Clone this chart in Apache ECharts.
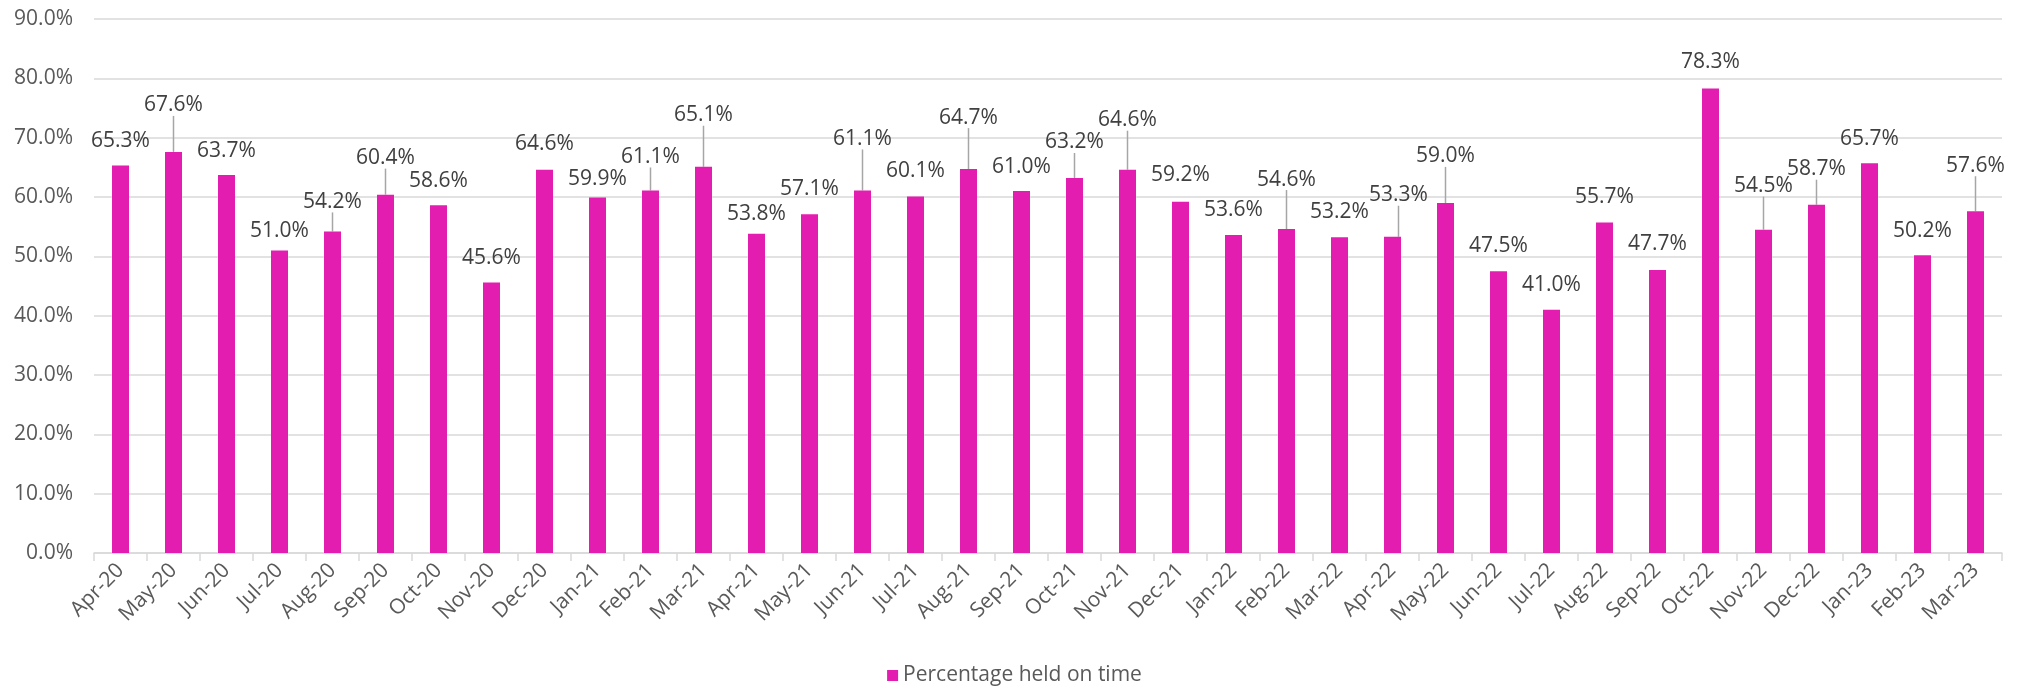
<!DOCTYPE html>
<html>
<head>
<meta charset="utf-8">
<script src="https://cdn.jsdelivr.net/npm/echarts@6/dist/echarts.min.js"></script>
<style>
  html, body { margin: 0; padding: 0; background: #fff; }
  #chart { width: 2029px; height: 696px; }
</style>
</head>
<body>
<div id="chart"></div>
<script>
  // 月份
  var months = ['Apr-20', 'May-20', 'Jun-20', 'Jul-20', 'Aug-20', 'Sep-20', 'Oct-20', 'Nov-20', 'Dec-20',
    'Jan-21', 'Feb-21', 'Mar-21', 'Apr-21', 'May-21', 'Jun-21', 'Jul-21', 'Aug-21', 'Sep-21', 'Oct-21', 'Nov-21', 'Dec-21',
    'Jan-22', 'Feb-22', 'Mar-22', 'Apr-22', 'May-22', 'Jun-22', 'Jul-22', 'Aug-22', 'Sep-22', 'Oct-22', 'Nov-22', 'Dec-22',
    'Jan-23', 'Feb-23', 'Mar-23'];
  // 按时举行的百分比
  var heldOnTime = [65.3, 67.6, 63.7, 51.0, 54.2, 60.4, 58.6, 45.6, 64.6,
    59.9, 61.1, 65.1, 53.8, 57.1, 61.1, 60.1, 64.7, 61.0, 63.2, 64.6, 59.2,
    53.6, 54.6, 53.2, 53.3, 59.0, 47.5, 41.0, 55.7, 47.7, 78.3, 54.5, 58.7,
    65.7, 50.2, 57.6];
  // y轴刻度
  var yTicks = [0, 10, 20, 30, 40, 50, 60, 70, 80, 90];

  // 标签上移量(像素),仅用于样式
  var labelLift = [0, 22, 0, -5, 5, 12, 0, 0, 1,
    -6, 9, 27, -5, 1, 27, 1, 27, 0, 11, 25, 2,
    0, 25, 1, 17, 22, 1, 0, 1, 1, 2, 19, 11,
    0, 0, 21];
  var labelShift = {24: 6};

  var seriesData = heldOnTime.map(function (v, i) {
    return { value: v, labelLine: { show: labelLift[i] >= 5 } };
  });

  var chart = echarts.init(document.getElementById('chart'));
  chart.setOption({
    animation: false,
    textStyle: { fontFamily: 'Open Sans' },
    grid: { left: 94, right: 27, top: 19, bottom: 143 },
    legend: {
      bottom: 5,
      left: 'center',
      itemWidth: 11,
      itemHeight: 11,
      itemGap: 10,
      icon: 'rect',
      textStyle: { color: '#595959', fontSize: 21, fontFamily: 'Open Sans' },
      data: ['Percentage held on time']
    },
    xAxis: {
      type: 'category',
      data: months,
      axisLine: { lineStyle: { color: '#d9d9d9', width: 1.5 } },
      axisTick: { show: true, length: 8, lineStyle: { color: '#d9d9d9', width: 1.5 } },
      axisLabel: { rotate: 45, color: '#595959', fontSize: 21, margin: 14, interval: 0 }
    },
    yAxis: {
      type: 'value',
      min: yTicks[0],
      max: yTicks[yTicks.length - 1],
      interval: yTicks[1] - yTicks[0],
      axisLine: { show: false },
      axisTick: { show: false },
      splitLine: { lineStyle: { color: '#d9d9d9', width: 1.5 } },
      axisLabel: {
        color: '#595959', fontSize: 21, margin: 21,
        formatter: function (v) { return v.toFixed(1) + '%'; }
      }
    },
    series: [{
      name: 'Percentage held on time',
      type: 'bar',
      barWidth: 17,
      itemStyle: { color: '#E41DB1' },
      data: seriesData,
      label: {
        show: true,
        position: 'top',
        distance: 14,
        color: '#404040',
        fontSize: 21,
        formatter: function (p) { return p.value.toFixed(1) + '%'; }
      },
      labelLine: { show: false, lineStyle: { color: '#a6a6a6', width: 1.5 } },
      labelLayout: function (p) {
        return { dy: -labelLift[p.dataIndex], dx: labelShift[p.dataIndex] || 0 };
      }
    }]
  });
</script>
</body>
</html>
